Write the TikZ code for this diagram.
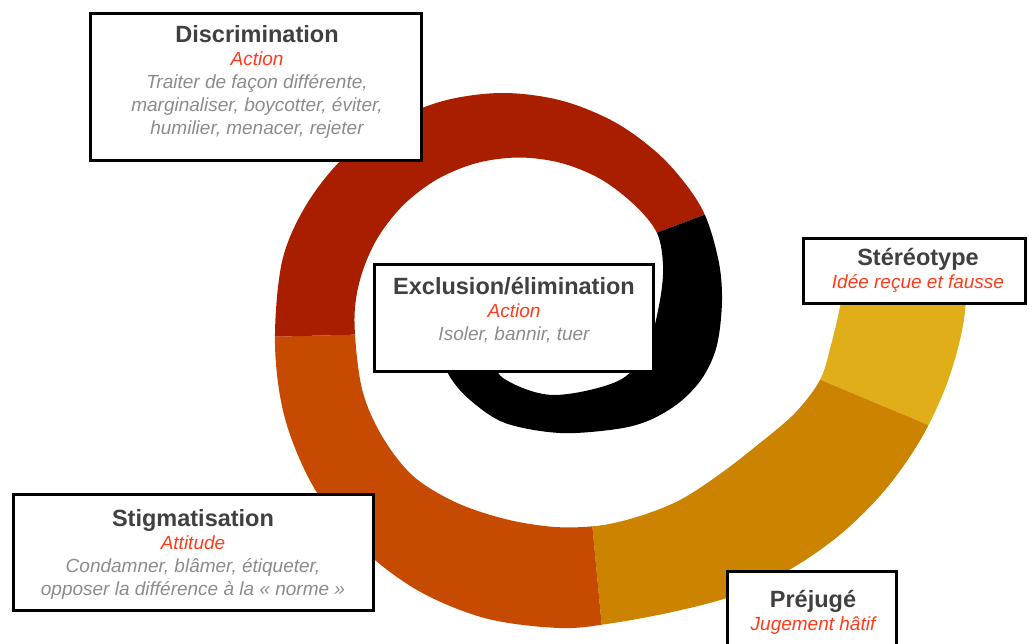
\documentclass[tikz,border=0pt]{standalone}
\usepackage{fontspec}
\setmainfont{Liberation Sans}
\usepackage{array}
\definecolor{cStereo}{HTML}{DFAE18}
\definecolor{cPrejuge}{HTML}{CC8400}
\definecolor{cStigma}{HTML}{C64B00}
\definecolor{cDiscri}{HTML}{AA1E00}
\definecolor{cTitle}{HTML}{404040}
\definecolor{cSub}{HTML}{FF3B1A}
\definecolor{cBody}{HTML}{8C8C8C}
\newcommand\boxtitle[1]{{\fontsize{23.5}{23}\selectfont\bfseries\upshape\color{cTitle}#1}}
\newcommand\boxsub[1]{{\color{cSub}#1}}
\begin{document}
\begin{tikzpicture}[x=1pt,y=-1pt,
  framebox/.style={draw=black, line width=2.8pt, fill=white, inner sep=0pt, rectangle},
  lbl/.style={anchor=base, inner sep=0pt, text=cBody, font=\fontsize{19}{23}\selectfont\itshape}]
\useasboundingbox (0,0) rectangle (1029,644);

% spiral band (outer edge, then inner edge back)
\path[save path=\bandpath]
  plot[smooth, tension=0.55] coordinates {(968.9,253.8) (963.6,322) (947.5,382.1) (921.2,438.5) (885.5,489.5) (841.5,533.5) (790.5,569.2) (734.1,595.5) (674,611.6) (610,623.5) (559,628) (485.5,618.3) (417,590) (358.2,544.8) (313,486) (284.7,417.5) (275,344) (281.8,262.7) (304.7,207.5) (341.1,160.1) (388.5,123.7) (443.7,100.8) (503,93) (562.3,100.8) (617.5,123.7) (664.9,160.1) (701.3,207.5) (718,258) (722,300) (717,345) (703,377) (680,402) (650,420) (617,429) (560,433) (505,423) (470,400) (450,377) (440,352)}
  -- plot[smooth, tension=0.55] coordinates {(490,352) (503,378) (553,395) (620,380) (648,345) (660,300) (663,265) (657,233) (635.3,205.7) (601.3,179.5) (561.6,163.1) (519,157.5) (476.4,163.1) (436.8,179.5) (402.7,205.7) (376.5,239.8) (360.1,279.4) (354.5,322) (361.7,387.6) (381.2,434.8) (412.3,475.3) (455,502) (505,519) (555,527) (600,525.5) (640,516) (680,500) (720,474) (760,443) (795,413) (820,380) (831,345) (840,307) (848,262)}
  -- cycle;

\begin{scope}
  \clip (760,150) -- (1040,150) -- (1040,472) -- (790,367) -- cycle;
  \fill[cStereo, use path=\bandpath];
\end{scope}
\begin{scope}
  \clip (790,367) -- (1040,472) -- (1040,660) -- (605,660) -- (589,490) -- cycle;
  \fill[cPrejuge, use path=\bandpath];
\end{scope}
\begin{scope}
  \clip (589,490) -- (605,660) -- (-10,660) -- (-10,344) -- (380,334) -- (420,420) -- (560,480) -- cycle;
  \fill[cStigma, use path=\bandpath];
\end{scope}
\begin{scope}
  \clip (-10,344) -- (-10,-10) -- (760,-10) -- (760,194) -- (640,239) -- (380,334) -- cycle;
  \fill[cDiscri, use path=\bandpath];
\end{scope}
\begin{scope}
  \clip (380,334) -- (640,239) -- (760,194) -- (790,367) -- (589,490) -- (560,480) -- (420,420) -- cycle;
  \fill[black, use path=\bandpath];
\end{scope}

% boxes
\node[framebox, minimum width=331, minimum height=147] (discbox) at (256,87) {};
\node[lbl] (disctxt) at (257,43) {\begin{tabular}[t]{@{}c@{}}\boxtitle{Discrimination}\\ \boxsub{Action}\\ Traiter de façon différente,\\ marginaliser, boycotter, éviter,\\ humilier, menacer, rejeter\end{tabular}};

\node[framebox, minimum width=222, minimum height=65] (stereobox) at (914.5,271) {};
\node[lbl] (stereotxt) at (918,266) {\begin{tabular}[t]{@{}c@{}}\boxtitle{Stéréotype}\\ \boxsub{Idée reçue et fausse}\end{tabular}};

\node[framebox, minimum width=279, minimum height=107] (exclbox) at (514,318) {};
\node[lbl] (excltxt) at (514,295) {\begin{tabular}[t]{@{}c@{}}\boxtitle{Exclusion/élimination}\\ \boxsub{Action}\\ Isoler, bannir, tuer\end{tabular}};

\node[framebox, minimum width=360, minimum height=116] (stigbox) at (193.5,552.5) {};
\node[lbl] (stigtxt) at (193,526) {\begin{tabular}[t]{@{}c@{}}\boxtitle{Stigmatisation}\\ \boxsub{Attitude}\\ Condamner, blâmer, étiqueter,\\ opposer la différence à la « norme »\end{tabular}};

\node[framebox, minimum width=169, minimum height=85] (prejbox) at (812,614) {};
\node[lbl] (prejtxt) at (813,607) {\begin{tabular}[t]{@{}c@{}}\boxtitle{Préjugé}\\ \boxsub{Jugement hâtif}\end{tabular}};
\end{tikzpicture}
\end{document}
